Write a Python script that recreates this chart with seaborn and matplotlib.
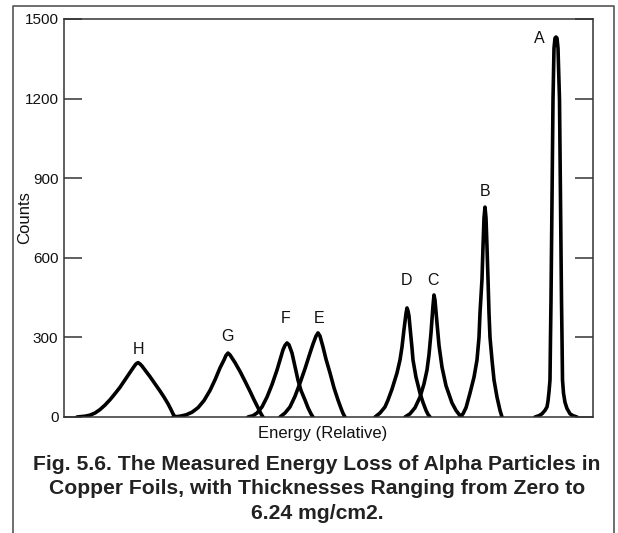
import matplotlib
matplotlib.use('Agg')
import matplotlib.pyplot as plt
from matplotlib.lines import Line2D
import seaborn as sns
import pandas as pd

# traced peaks: energy (relative units) and counts
H_x = [13, 21, 26, 31, 36, 41, 46, 51, 56, 61, 66, 70, 72, 74, 76, 78, 82, 86, 91, 96, 100, 104, 107, 109, 111]
H_y = [0, 3, 7, 15, 28, 45, 65, 88, 112, 140, 168, 190, 200, 205, 200, 192, 172, 152, 125, 98, 75, 50, 28, 12, 0]
G_x = [109, 116, 122, 128, 134, 140, 146, 151, 156, 160, 162, 164, 166, 171, 176, 181, 186, 190, 194, 197, 199]
G_y = [0, 3, 8, 18, 35, 62, 100, 140, 185, 215, 232, 241, 234, 205, 172, 135, 97, 65, 35, 12, 0]
F_x = [184, 189, 193, 198, 203, 208, 213, 216, 219, 221, 223, 225, 228, 231, 234, 237, 241, 244, 247, 249]
F_y = [0, 5, 15, 38, 75, 122, 177, 215, 253, 270, 279, 272, 241, 190, 139, 100, 64, 35, 12, 0]
E_x = [216, 221, 226, 231, 236, 241, 246, 249, 252, 254, 256, 259, 262, 266, 270, 274, 277, 279, 281]
E_y = [0, 15, 38, 78, 128, 182, 241, 275, 305, 317, 305, 264, 218, 166, 110, 64, 33, 14, 0]
D_x = [311, 316, 321, 324, 328, 333, 336, 338, 340, 342, 343, 344, 345, 346, 348, 349, 352, 356, 359, 362, 364, 366]
D_y = [0, 15, 38, 64, 105, 166, 215, 264, 330, 390, 411, 400, 380, 339, 260, 215, 150, 90, 55, 25, 10, 0]
C_x = [341, 346, 351, 356, 360, 363, 365, 367, 369, 370, 371, 373, 375, 378, 382, 388, 392, 395, 398]
C_y = [0, 12, 35, 75, 125, 177, 235, 317, 420, 460, 440, 354, 270, 188, 118, 53, 25, 10, 0]
B_x = [396, 399, 402, 406, 410, 413, 415, 416, 418, 419, 420, 421, 422, 423, 424, 425, 426, 428, 430, 433, 436, 438]
B_y = [0, 12, 35, 90, 150, 215, 300, 392, 520, 641, 750, 791, 750, 641, 520, 392, 300, 215, 140, 75, 25, 0]
A_x = [471, 475, 478, 481, 483, 484, 485, 486, 486.5, 487, 488, 489, 490, 491, 492, 493, 494, 495.5, 496.5, 497.5,
       498, 498.5, 499.5, 501, 503, 506, 509, 513]
A_y = [0, 5, 12, 25, 38, 60, 95, 140, 300, 440, 818, 1195, 1390, 1428, 1432, 1428, 1390, 1195, 818, 440,
       300, 140, 90, 55, 32, 12, 5, 0]

peak_names = ['H', 'G', 'F', 'E', 'D', 'C', 'B', 'A']
peak_xs = [H_x, G_x, F_x, E_x, D_x, C_x, B_x, A_x]
peak_ys = [H_y, G_y, F_y, E_y, D_y, C_y, B_y, A_y]
# letter label positions
label_x = [74, 164, 222, 255, 342, 369, 421, 475]
label_y = [256, 303, 370, 370, 513, 516, 850, 1425]

rows = []
for name, xs, ys in zip(peak_names, peak_xs, peak_ys):
    for x, y in zip(xs, ys):
        rows.append({'peak': name, 'energy': x, 'counts': y})
df = pd.DataFrame(rows)

sns.set_style('white')
plt.rcParams['font.family'] = ['Liberation Sans', 'DejaVu Sans']

fig = plt.figure(figsize=(6.18, 5.33), dpi=100)
ax = fig.add_axes([64/618, 1-417/533, 529/618, 398/533])

sns.lineplot(data=df, x='energy', y='counts', units='peak', estimator=None,
             sort=False, color='black', lw=2.6, ax=ax,
             solid_joinstyle='round', solid_capstyle='round')

for name, lx, ly in zip(peak_names, label_x, label_y):
    ax.text(lx, ly, name, ha='center', va='center', fontsize=11.5, color='#111111')

ax.set_xlim(0, 529)
ax.set_ylim(0, 1500)
ax.set_xticks([])
ax.set_yticks([0, 300, 600, 900, 1200, 1500])
ax.tick_params(axis='y', direction='in', left=True, right=True, length=13,
               width=1.1, color='#333333', labelsize=11, pad=4, labelcolor='#111111')
for s in ax.spines.values():
    s.set_color('#333333')
    s.set_linewidth(1.1)

ax.set_xlabel('Energy (Relative)', fontsize=12, color='#111111')
ax.set_ylabel('Counts', fontsize=12, color='#111111')
ax.xaxis.set_label_coords((323-64)/529, -(426-417)/398, transform=ax.transAxes)
ax.yaxis.set_label_coords(-(64-32)/529, 0.5, transform=ax.transAxes)

fig.text(317/618, 1-489/533,
         'Fig. 5.6. The Measured Energy Loss of Alpha Particles in\n'
         'Copper Foils, with Thicknesses Ranging from Zero to\n'
         '6.24 mg/cm2.',
         ha='center', va='center', fontsize=15.2, fontweight='bold',
         color='#222222', linespacing=1.36)

# outer frame, open at the bottom
fx0, fx1, fy1 = 13/618, 614/618, 1-6/533
fig.add_artist(Line2D([fx0, fx0, fx1, fx1], [0, fy1, fy1, 0],
                      transform=fig.transFigure, color='#555555', lw=1.2))

fig.savefig('out.png', dpi=100)
